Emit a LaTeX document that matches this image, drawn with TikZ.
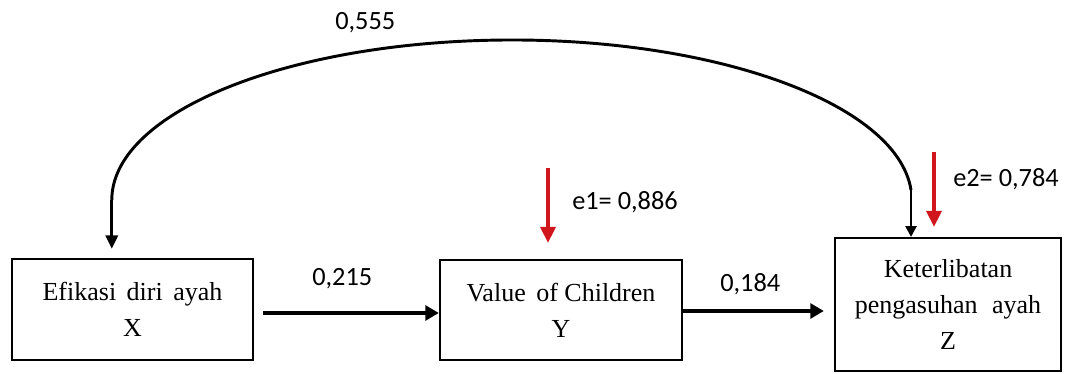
\documentclass[tikz,border=0pt]{standalone}
\usepackage{fontspec}
\setmainfont{Liberation Serif}
\newfontfamily\labfont{Carlito}
\usetikzlibrary{arrows.meta,calc}
\definecolor{errred}{RGB}{208,22,28}
\begin{document}
\begin{tikzpicture}[x=0.75pt,y=0.75pt,
  box/.style={draw,line width=1.8pt,inner sep=0pt,align=center,
    font=\fontsize{19.5}{27}\selectfont},
  lbl/.style={inner sep=0pt,anchor=base west,font=\labfont\fontsize{19.75}{24}\selectfont},
  harrow/.style={line width=3pt,-{Triangle[length=10pt,width=11pt]}},
  redarrow/.style={draw=errred,line width=3pt,-{Triangle[length=12pt,width=11pt]}},
  curve/.style={line width=2.2pt},
  thinarrow/.style={line width=1pt,-{Triangle[length=8pt,width=8.5pt]}},
  curvetip/.style={-{Triangle[length=10pt,width=9pt]}}]
\useasboundingbox (0,0) rectangle (1066,374);

% boxes
\node[box,minimum width=180.75pt,minimum height=75.75pt] (X) at (132.5,64.5)
  {Efikasi\hspace{3pt} diri\hspace{3pt} ayah\\X};
\node[box,minimum width=181.5pt,minimum height=75pt] (Y) at (561,64)
  {Value\hspace{3pt} of Children\\Y};
\node[box,minimum width=169.5pt,minimum height=99.75pt] (Z) at (948,69.5)
  {Keterlibatan\\pengasuhan\hspace{6pt} ayah\\Z};

% helper coordinates
\coordinate (cR) at (911,184);
\coordinate (e1s) at (548,206);
\coordinate (e1e) at (548,131);
\coordinate (e2s) at (934,222);
\coordinate (e2e) at (934,147);
\coordinate (a1s) at ($(X.east)+(9,-3.5)$);
\coordinate (a1e) at (Y.west |- a1s);
\coordinate (a2s) at ($(Y.east)+(0,-1)$);
\coordinate (a2z) at (Z.west |- a2s);
\coordinate (a2e) at ($(a2z)+(-10,0)$);

% horizontal arrows
\draw[harrow] (a1s) -- (a1e);
\draw[harrow] (a2s) -- (a2e);

% curved connector
\draw[curve] (cR) arc[start angle=3.58, end angle=180, x radius=300pt, y radius=120pt]
  coordinate (cL);
\coordinate (xtop) at ($(X.north)+(0,9)$);
\coordinate (xin) at (cL |- xtop);
\draw[curve,curvetip] (cL) -- (xin);
\draw[thinarrow] (cR) -- (cR |- Z.north);

% error arrows
\draw[redarrow] (e1s) -- (e1e);
\draw[redarrow] (e2s) -- (e2e);

% labels
\node[lbl] (l555) at (335,344) {0,555};
\node[lbl] (l215) at (312,88) {0,215};
\node[lbl] (l184) at (720,82) {0,184};
\node[lbl] (le1) at (572,164) {e1= 0,886};
\node[lbl] (le2) at (953,187) {e2= 0,784};
\end{tikzpicture}
\end{document}
